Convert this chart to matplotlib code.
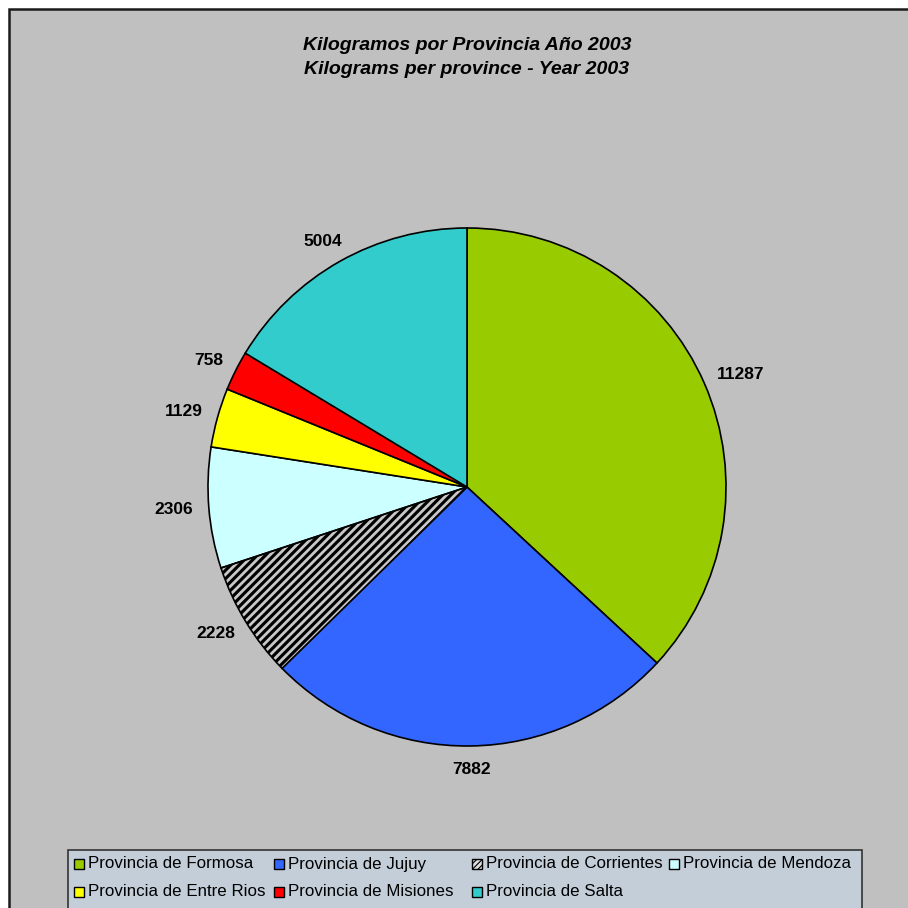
import matplotlib
matplotlib.use("Agg")
import matplotlib.pyplot as plt
from matplotlib.patches import Rectangle, Wedge
import numpy as np

provinces = ["Provincia de Formosa", "Provincia de Jujuy", "Provincia de Corrientes",
             "Provincia de Mendoza", "Provincia de Entre Rios", "Provincia de Misiones",
             "Provincia de Salta"]
values = [11287, 7882, 2228, 2306, 1129, 758, 5004]
colors = ["#99CC00", "#3366FF", "#000000", "#CCFFFF", "#FFFF00", "#FF0000", "#33CCCC"]
title_lines = ["Kilogramos por Provincia Año 2003", "Kilograms per province - Year 2003"]

plt.rcParams['font.family'] = ['Liberation Sans', 'DejaVu Sans']
plt.rcParams['hatch.linewidth'] = 2.0

W = H = 908
fig = plt.figure(figsize=(9.08, 9.08), dpi=100)
fig.patch.set_facecolor("white")

def fx(px):
    return px / W

def fy(py):
    return 1 - py / H

# chart area frame
fig.patches.append(Rectangle((fx(9), fy(930)), fx(940), (930 - 9) / H, transform=fig.transFigure,
                             facecolor="#C0C0C0", edgecolor="#1a1a1a", linewidth=1.8, zorder=-5))

# pie axes
cx, cy, R = 467, 487, 259
ax = fig.add_axes([fx(cx - R), fy(cy + R), 2 * R / W, 2 * R / H])

wedges, _ = ax.pie(values, colors=colors, startangle=90, counterclock=False, radius=1,
                   wedgeprops=dict(edgecolor="black", linewidth=1.2))
ax.set_xlim(-1, 1)
ax.set_ylim(-1, 1)
ax.set_aspect("equal")
ax.axis("off")

# striped wedge (Corrientes)
hw = wedges[2]
hw.set_facecolor("black")
hw.set_edgecolor("#c8c8c8")
hw.set_hatch("////")
hw.set_linewidth(0)
ax.add_patch(Wedge(hw.center, hw.r, hw.theta1, hw.theta2, fill=False,
                   edgecolor="black", linewidth=1.2, zorder=5))

# value labels (placed just outside the rim, box pushed outward)
renderer = fig.canvas.get_renderer()
for w, v in zip(wedges, values):
    ang = np.deg2rad((w.theta1 + w.theta2) / 2)
    d = 1.06
    t = ax.text(0, 0, str(v), ha="center", va="center",
                fontsize=12.5, fontweight="bold", clip_on=False)
    bb = t.get_window_extent(renderer)
    ox = (bb.width / 2) * np.cos(ang) / R
    oy = (bb.height / 2) * np.sin(ang) / R
    t.set_position((d * np.cos(ang) + ox, d * np.sin(ang) + oy))

# title
fig.text(fx(467), fy(45), title_lines[0], ha="center", va="center", fontsize=14,
         fontweight="bold", fontstyle="italic")
fig.text(fx(467), fy(70), title_lines[1], ha="center", va="center", fontsize=14,
         fontweight="bold", fontstyle="italic")

# legend box
fig.patches.append(Rectangle((fx(68), fy(920)), (862 - 68) / W, 70 / H, transform=fig.transFigure,
                             facecolor="#C3CED9", edgecolor="#333333", linewidth=1.2, zorder=1))
col_x = [79, 279, 477, 674]
row_y = [864, 892]
s = 10
for i, (name, c) in enumerate(zip(provinces, colors)):
    x0 = col_x[i % 4]
    y0 = row_y[i // 4]
    if i == 2:
        fig.patches.append(Rectangle((fx(x0 - s / 2), fy(y0 + s / 2)), s / W, s / H, transform=fig.transFigure,
                                     facecolor="black", edgecolor="#dddddd", hatch="//////",
                                     linewidth=0, zorder=2))
        fig.patches.append(Rectangle((fx(x0 - s / 2), fy(y0 + s / 2)), s / W, s / H, transform=fig.transFigure,
                                     fill=False, edgecolor="black", linewidth=1.0, zorder=3))
    else:
        fig.patches.append(Rectangle((fx(x0 - s / 2), fy(y0 + s / 2)), s / W, s / H, transform=fig.transFigure,
                                     facecolor=c, edgecolor="black", linewidth=1.0, zorder=2))
    fig.text(fx(x0 + 9), fy(y0), name, ha="left", va="center", fontsize=12.2, zorder=3)

fig.savefig("out.png", dpi=100, facecolor=fig.get_facecolor())
